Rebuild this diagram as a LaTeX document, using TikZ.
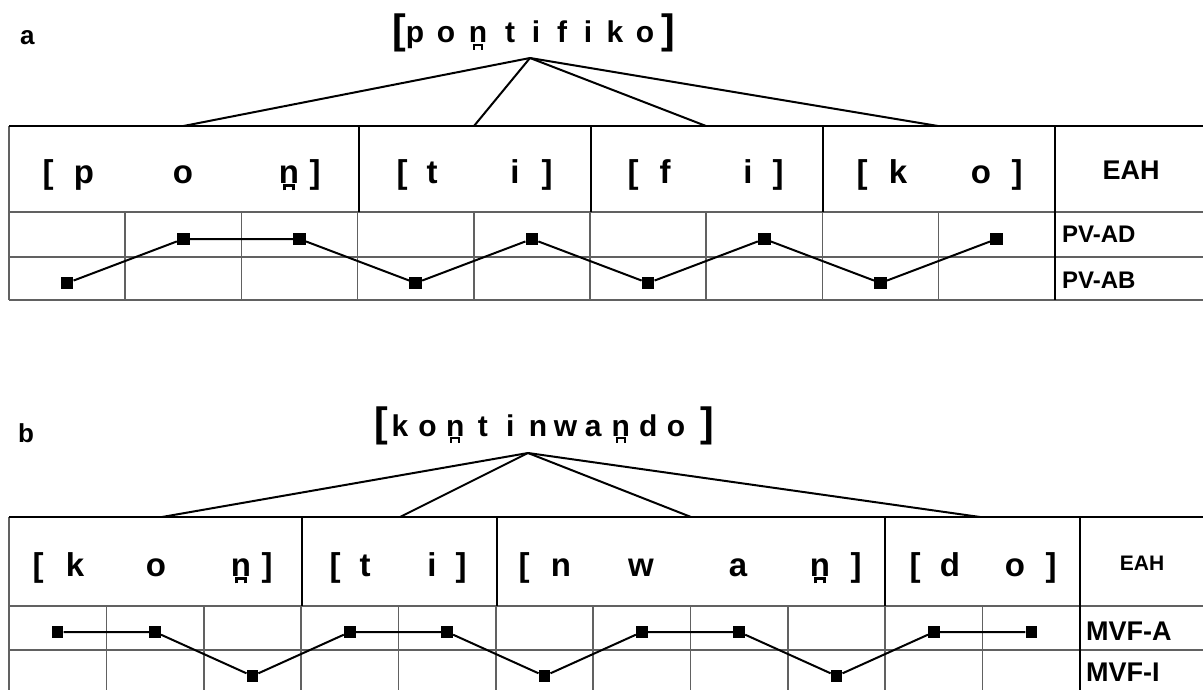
\documentclass[tikz,border=0pt]{standalone}
\usepackage{fontspec}
\setmainfont{Liberation Sans}[BoldFont={Liberation Sans Bold}]
\newsavebox\nbox
\newcommand{\bridge}{\hbox{\vrule width .07em height -.04em depth .22em\kern-.07em\vrule width .34em height -.04em depth .11em\kern-.07em\vrule width .07em height -.04em depth .22em}}
\newcommand{\dn}{\sbox\nbox{n}\rlap{\makebox[\wd\nbox]{\bridge}}\usebox\nbox}
\newcommand{\fs}[1]{\fontsize{#1}{#1}\selectfont\bfseries}
\tikzset{
  thk/.style={line width=2.2pt, draw=black},
  grd/.style={line width=1.6pt, draw=black!62},
  mk/.style={fill=black, minimum size=12.5pt, inner sep=0pt},
  mkb/.style={fill=black, minimum size=11.5pt, inner sep=0pt},
  con/.style={line width=2pt, draw=black},
  fan/.style={line width=2pt, draw=black},
  hd/.style={font=\fs{33}, anchor=base, inner sep=0pt},
  ttl/.style={font=\fs{30}, anchor=base, inner sep=0pt},
  tbr/.style={font=\fs{41}, anchor=base, inner sep=0pt},
  lab/.style={anchor=base west, inner sep=0pt},
}
\begin{document}
\begin{tikzpicture}[x=1pt,y=-1pt]
\useasboundingbox (0,0) rectangle (1203,690);

%================ panel a ================
\node[font=\fs{26}, anchor=base west, inner sep=0pt] (la) at (20,45) {a};
% title
\node[tbr] (tab1) at (399,44) {[};
\foreach \x/\c [count=\k] in {415/p,446/o,478/\dn,510/t,536/i,562/f,588/i,615/k,645/o}
  \node[ttl] (ta\k) at (\x,43) {\c};
\node[tbr] (tab2) at (668,44) {]};
\coordinate (apa) at (530,58);
% syllable anchors
\coordinate (sa1) at (183.5,126);
\coordinate (sa2) at (474,126);
\coordinate (sa3) at (706,126);
\coordinate (sa4) at (938,126);
% grid
\foreach \i in {1,...,8} \draw[grd] ({9+116.2*\i},212) -- ({9+116.2*\i},300);
\draw[grd] (9,212) -- (1203,212);
\draw[grd] (9,257) -- (1203,257);
\draw[grd] (9,300) -- (1203,300);
\draw[grd] (9,126) -- (9,300);
\foreach \x in {358.6,590.8,823.2} \draw[thk] (\x,126) -- (\x,212);
\draw[thk] (1055,126) -- (1055,300);
\draw[thk] (9,126) -- (1203,126);
% fan
\foreach \s in {sa1,sa2,sa3,sa4} \draw[fan] (apa) -- (\s);
% header
\foreach \x/\c [count=\k] in {48/{[},84/p,183/o,289/\dn,315/{]},402/{[},432/t,515/i,547/{]},633/{[},665/f,748/i,778/{]},862/{[},898/k,981/o,1017/{]}}
  \node[hd] (ha\k) at (\x,183) {\c};
\node[font=\fs{27}, inner sep=0pt] (eaha) at (1131,170) {EAH};
\node[lab, font=\fs{24}] (pvad) at (1062,243) {PV-AD};
\node[lab, font=\fs{24}] (pvab) at (1062,288) {PV-AB};
% markers
\foreach \i/\y in {0/283,1/239,2/239,3/283,4/239,5/283,6/239,7/283,8/239}
  \node[mk] (ma\i) at ({67.1+116.2*\i},\y) {};
\draw[con] (ma0) -- (ma1) -- (ma2) -- (ma3) -- (ma4) -- (ma5) -- (ma6) -- (ma7) -- (ma8);

%================ panel b ================
\node[font=\fs{26}, anchor=base west, inner sep=0pt] (lb) at (18,442) {b};
\node[tbr] (tbb1) at (381,436) {[};
\foreach \i/\c [count=\k] in {0/k,1/o,2/\dn,3/t,4/i,5/n,6/w,7/a,8/\dn,9/d,10/o}
  \node[ttl] (tb\k) at ({400+27.6*\i},436) {\c};
\node[tbr] (tbb2) at (707,436) {]};
\coordinate (apb) at (528,453);
\coordinate (sb1) at (162,517);
\coordinate (sb2) at (400,517);
\coordinate (sb3) at (691,517);
\coordinate (sb4) at (980,517);
\foreach \i in {1,...,10} \draw[grd] ({9+97.36*\i},606) -- ({9+97.36*\i},690);
\draw[grd] (9,606) -- (1203,606);
\draw[grd] (9,650) -- (1203,650);
\draw[grd] (9,517) -- (9,690);
\foreach \x in {302,496.8,885} \draw[thk] (\x,517) -- (\x,606);
\draw[thk] (1080,517) -- (1080,690);
\draw[thk] (9,517) -- (1203,517);
\foreach \s in {sb1,sb2,sb3,sb4} \draw[fan] (apb) -- (\s);
\foreach \x/\c [count=\k] in {38/{[},75/k,156/o,241/\dn,267/{]},335/{[},365/t,432/i,461/{]},524/{[},561/n,641/w,738/a,820/\dn,856/{]},915/{[},950/d,1015/o,1051/{]}}
  \node[hd] (hb\k) at (\x,576) {\c};
\node[font=\fs{21}, inner sep=0pt] (eahb) at (1142,563) {EAH};
\node[lab, font=\fs{27}] (mvfa) at (1086,640) {MVF-A};
\node[lab, font=\fs{27}] (mvfi) at (1086,681) {MVF-I};
\foreach \i/\y in {0/632,1/632,2/676,3/632,4/632,5/676,6/632,7/632,8/676,9/632,10/632}
  \node[mkb] (mb\i) at ({57.7+97.36*\i},\y) {};
\draw[con] (mb0) -- (mb1) -- (mb2) -- (mb3) -- (mb4) -- (mb5) -- (mb6) -- (mb7) -- (mb8) -- (mb9) -- (mb10);
\end{tikzpicture}
\end{document}
